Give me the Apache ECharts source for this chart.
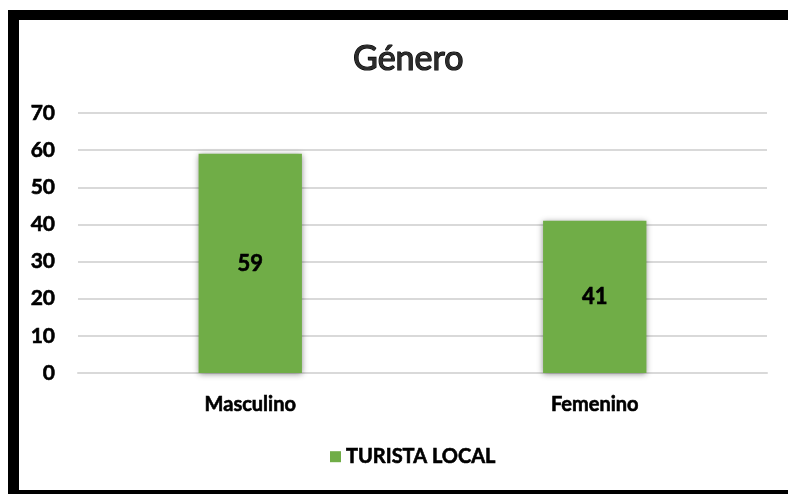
<!DOCTYPE html>
<html>
<head>
<meta charset="utf-8">
<script src="https://cdn.jsdelivr.net/npm/echarts@6/dist/echarts.min.js"></script>
<style>
    html, body { margin: 0; padding: 0; background: #fff; }
    #main { position: absolute; left: 0; top: 0; width: 788px; height: 494px; }
    .frame { position: absolute; background: #000; }
</style>
</head>
<body>
<div id="main"></div>
<div class="frame" style="left:8px; top:10px; width:780px; height:10px;"></div>
<div class="frame" style="left:8px; top:10px; width:11px; height:484px;"></div>
<div class="frame" style="left:8px; top:490px; width:780px; height:4px;"></div>
<script>
// datos del gráfico
const categorias = ['Masculino', 'Femenino']
const turistaLocal = [59, 41]
const serieNombre = 'TURISTA LOCAL'

// texto negrita un poco más grueso
const negrita = {
    fontFamily: 'Lato',
    fontWeight: 'bold',
    color: '#000',
    textBorderColor: '#000',
    textBorderWidth: 0.6
}

const myChart = echarts.init(document.getElementById('main'))
const option = {
    animation: false,
    title: {
        text: 'Género',
        left: 348,
        top: 37,
        textStyle: {
            fontFamily: 'Lato',
            fontSize: 34,
            fontWeight: 'normal',
            color: '#2b2b2b',
            textBorderColor: '#000',
            textBorderWidth: 1.2
        }
    },
    legend: {
        data: [serieNombre],
        bottom: 22,
        left: 325,
        itemWidth: 11,
        itemHeight: 11,
        icon: 'rect',
        textStyle: Object.assign({ fontSize: 20 }, negrita)
    },
    grid: { left: 78, right: 21, top: 113, bottom: 121 },
    xAxis: {
        type: 'category',
        data: categorias,
        axisTick: { show: false },
        axisLine: { lineStyle: { color: '#d9d9d9', width: 2 } },
        axisLabel: Object.assign({ margin: 22, fontSize: 20 }, negrita)
    },
    yAxis: {
        type: 'value',
        min: 0,
        max: 70,
        interval: 10,
        axisLine: { show: false },
        axisTick: { show: false },
        splitLine: { lineStyle: { color: '#d9d9d9', width: 2 } },
        axisLabel: Object.assign({ margin: 23, fontSize: 21 }, negrita)
    },
    series: [
        {
            name: serieNombre,
            type: 'bar',
            data: turistaLocal,
            barWidth: '30%',
            itemStyle: {
                color: '#70ad47',
                shadowColor: 'rgba(0,0,0,0.45)',
                shadowBlur: 6,
                shadowOffsetY: 1
            },
            label: Object.assign({ show: true, position: 'inside', fontSize: 22 }, negrita)
        }
    ]
}
myChart.setOption(option)
</script>
</body>
</html>
